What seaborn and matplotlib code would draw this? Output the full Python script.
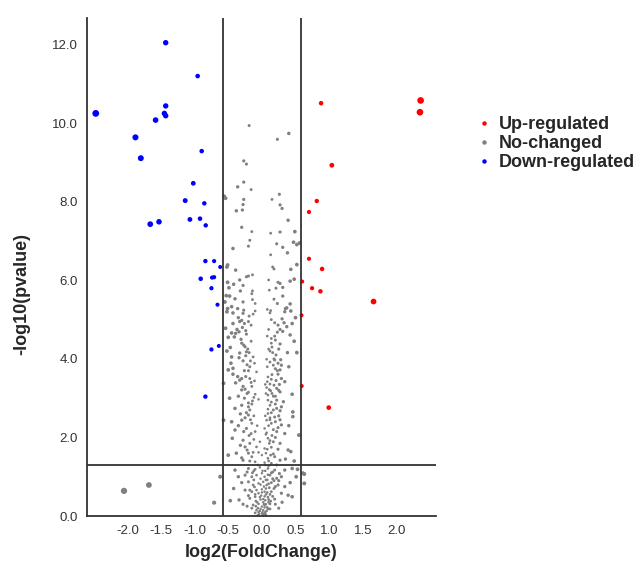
import numpy as np
import pandas as pd
import matplotlib
matplotlib.use("Agg")
import matplotlib.pyplot as plt
from matplotlib.lines import Line2D
from matplotlib.ticker import FormatStrFormatter, MultipleLocator
import seaborn as sns

# ---------------- data ----------------
up_fc = [0.88, 2.36, 2.35, 1.04, 0.816, 0.70, 0.70, 0.895, 0.60, 0.746, 0.87, 1.66, 0.59, 0.593, 0.994]
up_p = [10.51, 10.58, 10.28, 8.93, 8.02, 7.74, 6.55, 6.29, 5.97, 5.80, 5.72, 5.46, 5.11, 3.31, 2.76]

down_fc = [-1.43, -0.955, -1.43, -2.47, -1.45, -1.43, -1.58, -1.88, -0.895, -1.80, -1.02, -1.14,
           -0.856, -0.92, -1.07, -1.53, -1.66, -0.835, -0.84, -0.71, -0.62, -0.91, -0.74, -0.71,
           -0.75, -0.66, -0.64, -0.75, -0.84]
down_p = [12.05, 11.20, 10.44, 10.25, 10.25, 10.19, 10.08, 9.64, 9.29, 9.11, 8.47, 8.03,
          7.96, 7.57, 7.55, 7.49, 7.43, 7.40, 6.49, 6.49, 6.34, 6.04, 6.07, 6.08,
          5.80, 5.38, 4.33, 4.24, 3.04]

nc_fc = [
    -0.19, 0.40, 0.23, -0.27, -0.23, -0.27, -0.36, -0.16, -0.56, -0.54, 0.26, 0.15, -0.27, -0.28, 0.27, 0.30, -0.38, -0.29,
    0.39, -0.30, -0.15, 0.13, 0.27, 0.49, -0.18, 0.22, 0.47, 0.52, -0.20, -0.43, 0.31, 0.38, 0.13, 0.52, -0.51, -0.52, 0.16,
    0.18, -0.39, 0.43, -0.14, -0.23, -0.20, 0.10, -0.51, -0.33, -0.42, 0.24, 0.27, 0.42, 0.48, -0.49, -0.28, 0.21, 0.11,
    -0.32, -0.14, 0.31, -0.15, -0.53, -0.48, 0.31, -0.40, -0.14, 0.18, -0.28, -0.10, 0.23, 0.42, -0.45, -0.51, -0.36, 0.08,
    0.35, 0.37, -0.27, -0.10, 0.13, -0.52, 0.43, 0.56,
    -0.43, -0.28, -0.13, 0.12, 0.34, -0.19, -0.43, -0.26, -0.16, 0.24, 0.33, 0.37, -0.54, -0.39, -0.45, -0.34, -0.23, 0.08,
    0.19, 0.42, -0.41, -0.47, -0.25, -0.23, -0.19, 0.12, 0.16, 0.38, 0.52, -0.45, -0.34, -0.13, 0.07, 0.19, 0.24, -0.46,
    -0.11, 0.17, 0.29, -0.43, -0.50, -0.26, -0.20, -0.08, 0.27, -0.43, 0.24, 0.09, -0.18, -0.30, 0.29, -0.33, -0.11, -0.39,
    -0.57, 0.08, 0.12, 0.18, 0.34, 0.07, 0.22, -0.25, -0.30, 0.13, 0.27, -0.10, 0.09, 0.17, -0.26, -0.05, -0.14, 0.09, 0.22,
    0.32, 0.12, -0.20, -0.40, -0.18, 0.09, 0.17, 0.22, 0.29, -0.23, 0.14, 0.46,
    -0.35, -0.30, -0.20, 0.30, 0.27, 0.31, -0.37, -0.16, 0.14, 0.20, 0.48, -0.52,
    -0.57, -0.20, 0.09, 0.46, -0.30, -0.15, 0.07, 0.14, 0.29, -0.40, -0.23, -0.10, 0.04, 0.22, 0.34, 0.55, -0.44, -0.28,
    -0.18, -0.03, 0.09, 0.17, 0.27, -0.25, -0.08, 0.04, 0.14, 0.39, 0.43, -0.38, -0.20, -0.15, 0.00, 0.09, 0.19, 0.27,
    -0.28, -0.10, 0.04, 0.14,
    -0.40, -0.20, -0.10, -0.03, 0.09, 0.19, 0.34, 0.45, 0.53, 0.61, 0.63, -0.62, -0.35, -0.25, -0.15, -0.08, 0.00, 0.04,
    0.12, 0.22, 0.29, 0.51, -0.20, -0.13, -0.05, 0.02, 0.07, 0.14, 0.24, 0.34, -0.25, -0.15, -0.08, 0.00, 0.04, 0.14, 0.29,
    -0.34, -0.47, 0.39, -0.18, -0.10, -0.03, 0.02, 0.09, 0.19, -0.13, -0.05, 0.00, 0.04, 0.12, -0.08, -0.03, 0.02, 0.07,
    0.00, -0.04, 0.03,
    -2.05, -1.68, -0.71, 0.45, 0.63,
    0.05, -0.06, 0.08, 0.10, -0.09, 0.06, -0.05, 0.11, -0.11, 0.08, -0.02, 0.16, -0.14, 0.10, -0.06, 0.05, -0.01, 0.12,
    -0.10, 0.01, 0.06, -0.06, 0.03, 0.18, -0.18, 0.25, 0.16, -0.12, 0.20, -0.22, 0.13, -0.05, 0.08, 0.11, -0.12, 0.15,
    0.06, -0.07, 0.20, 0.12, -0.12, 0.17, -0.16,
    0.15, 0.20, -0.15, -0.20, 0.25, 0.15, 0.21, 0.18, -0.24, -0.17, 0.15, 0.25, -0.30, 0.20, -0.15, 0.12, 0.25, -0.32, 0.27,
]
nc_p = [
    9.94, 9.74, 9.59, 9.04, 8.96, 8.50, 8.38, 8.31, 8.14, 8.09, 8.19, 8.06, 8.06, 7.93, 7.92, 7.83, 7.77, 7.79,
    7.53, 7.35, 7.24, 7.20, 7.23, 7.24, 7.02, 6.93, 6.97, 6.91, 6.87, 6.81, 6.84, 6.70, 6.65, 6.40, 6.39, 6.34, 6.34,
    6.29, 6.26, 6.28, 6.14, 6.09, 6.11, 6.01, 5.95, 6.01, 5.90, 5.95, 5.92, 5.98, 6.03, 5.81, 5.87, 5.80, 5.75,
    5.73, 5.73, 5.82, 5.66, 5.61, 5.60, 5.60, 5.53, 5.51, 5.52, 5.45, 5.41, 5.41, 5.40, 5.33, 5.28, 5.28, 5.26,
    5.28, 5.30, 5.24, 5.22, 5.23, 5.20, 5.22, 6.95,
    5.17, 5.16, 5.14, 5.17, 5.20, 5.09, 4.90, 4.90, 4.86, 4.86, 4.92, 4.82, 4.78, 4.65, 4.66, 4.69, 4.63, 4.58,
    4.58, 4.61, 4.56, 4.29, 4.31, 4.18, 4.16, 4.20, 4.16, 4.16, 4.16, 4.05, 4.03, 4.05, 3.99, 3.97, 3.89, 3.89,
    3.89, 3.84, 3.84, 3.76, 3.72, 3.70, 3.70, 3.67, 3.72, 3.61, 3.61, 3.54, 3.50, 3.50, 3.50, 3.46, 3.44, 3.39,
    3.38, 3.42, 3.36, 3.33, 3.42, 3.27, 3.25, 3.23, 3.21, 3.19, 3.16, 3.10, 3.08, 3.05, 3.00, 2.97, 2.93, 2.95, 2.95,
    2.91, 2.82, 2.78, 2.74, 2.70, 2.72, 2.70, 2.74, 2.78, 2.63, 2.63, 2.65,
    5.05, 4.98, 4.95, 5.02, 4.75, 4.70, 4.75, 4.45, 4.40, 4.48, 4.45, 4.20,
    2.44, 2.57, 2.61, 2.53, 2.44, 2.36, 2.44, 2.36, 2.32, 2.19, 2.23, 2.15, 2.23, 2.15, 2.10, 2.06, 1.98, 1.93,
    1.85, 1.89, 1.98, 1.89, 1.85, 1.76, 1.76, 1.72, 1.75, 1.68, 1.64, 1.60, 1.60, 1.51, 1.55, 1.47, 1.51, 1.42,
    1.42, 1.38, 1.36, 1.34,
    1.17, 1.21, 1.19, 1.24, 1.21, 1.17, 1.17, 1.21, 1.19, 1.09, 0.83, 1.00, 1.00, 1.04, 1.00, 1.04, 1.09, 1.00,
    1.04, 0.96, 1.00, 1.00, 0.87, 0.79, 0.83, 0.87, 0.79, 0.85, 0.79, 0.75, 0.66, 0.62, 0.66, 0.68, 0.62, 0.62, 0.58,
    0.41, 0.39, 0.53, 0.45, 0.49, 0.48, 0.43, 0.48, 0.43, 0.28, 0.31, 0.24, 0.28, 0.31, 0.15, 0.13, 0.15, 0.13,
    0.07, 0.05, 0.05,
    0.64, 0.79, 0.34, 0.49, 1.07,
    0.10, 0.20, 0.22, 0.35, 0.38, 0.55, 0.58, 0.72, 0.74, 0.92, 0.95, 1.12, 1.10, 1.28, 1.30, 0.40, 0.52, 0.18,
    0.08, 0.02, 0.02, 0.02, 0.30, 0.70, 0.66, 0.90, 0.95, 0.92, 0.30, 0.25, 1.55, 1.62, 1.70, 1.85, 1.95, 2.05,
    2.08, 2.30, 2.40, 2.50, 2.55, 2.20, 2.10,
    3.60, 3.75, 3.30, 3.15, 3.20, 3.12, 3.45, 4.00, 4.08, 3.95, 4.30, 4.25, 4.40, 2.85, 2.85, 2.45, 2.55, 2.60, 2.45,
]

# second batch of unchanged genes (dense columns and the cone near zero)
nc2_fc = [
    -0.33, -0.29, -0.24, -0.31, -0.27, -0.21, -0.33, -0.28, -0.22, -0.18, -0.36, -0.24, -0.16, -0.28, -0.22, -0.35,
    -0.12, -0.20, -0.30, -0.25, -0.17, -0.35, -0.27, -0.19, -0.32, -0.22, -0.13, -0.30, -0.18, -0.12, -0.22, -0.30,
    -0.10, -0.20, -0.07, -0.15, -0.09,
    0.14, 0.19, 0.10, 0.23, 0.14, 0.27, 0.10, 0.21, 0.12, 0.28, 0.08, 0.23, 0.14, 0.05, 0.26, 0.11, 0.20, 0.06, 0.14,
    0.27, 0.05, 0.19, 0.10, 0.24, 0.07, 0.20, 0.12, 0.24, 0.06, 0.17, 0.10, 0.22, 0.05, 0.14, 0.26, 0.09, 0.18, 0.10,
    0.20, 0.06, 0.12, 0.08, 0.16, 0.10, 0.13, 0.06, 0.09, 0.04, 0.01, -0.02, 0.05, -0.05, 0.02, -0.02, 0.04, 0.00,
    0.03, -0.02, 0.06, 0.01, 0.05,
    -0.45, -0.50, 0.40, 0.48, 0.35, -0.42, 0.30, 0.25, -0.28, 0.42, -0.48, 0.45, 0.40, -0.50, 0.50, -0.55, 0.45,
]
nc2_p = [
    4.95, 4.80, 4.72, 4.50, 4.35, 4.25, 4.15, 3.95, 3.85, 3.80, 3.55, 3.55, 3.40, 3.30, 3.12, 3.05,
    3.02, 2.88, 2.82, 2.50, 2.45, 2.30, 2.15, 2.05, 1.80, 1.68, 1.62, 1.48, 1.40, 1.15, 1.12, 0.85,
    0.55, 0.52, 0.35, 0.20, 0.25,
    5.00, 4.92, 4.75, 4.68, 4.52, 4.38, 4.25, 4.10, 3.92, 3.98, 3.80, 3.70, 3.48, 3.35, 3.35, 3.22, 3.05, 3.12, 2.90,
    2.68, 2.55, 2.52, 2.30, 2.25, 2.12, 2.00, 1.92, 1.70, 1.60, 1.58, 1.40, 1.30, 1.15, 1.10, 1.08, 1.05, 0.90, 0.82,
    0.75, 0.70, 0.55, 0.60, 0.50, 0.42, 0.38, 0.30, 0.18, 0.22, 0.10, 0.18, 0.06, 0.10, 0.35, 0.42, 0.50, 0.60,
    0.75, 0.80, 0.92, 1.15, 1.30,
    2.40, 1.55, 2.30, 1.40, 1.45, 0.70, 0.35, 0.20, 0.30, 0.85, 3.00, 3.10, 3.80, 4.55, 5.05, 5.45, 4.90,
]

categories = ["Up-regulated", "No-changed", "Down-regulated"]
colors = ["#ff0000", "#808080", "#0000ff"]
x_ticks = [-2.0, -1.5, -1.0, -0.5, 0.0, 0.5, 1.0, 1.5, 2.0]
fc_cut = [-0.585, 0.585]
p_cut = 1.301

# ---------------- frame ----------------
df = pd.concat([
    pd.DataFrame({"fc": nc_fc + nc2_fc, "p": nc_p + nc2_p, "status": "No-changed"}),
    pd.DataFrame({"fc": up_fc, "p": up_p, "status": "Up-regulated"}),
    pd.DataFrame({"fc": down_fc, "p": down_p, "status": "Down-regulated"}),
], ignore_index=True)
df["absfc"] = df["fc"].abs()

sns.set_style("white")
plt.rcParams["font.family"] = ["Liberation Sans", "DejaVu Sans"]

fig = plt.figure(figsize=(6.37, 5.66), dpi=100)
ax = fig.add_axes([0.1366, 0.0883, 0.548, 0.880])

sns.scatterplot(data=df, x="fc", y="p", hue="status", hue_order=categories,
                palette=dict(zip(categories, colors)), size="absfc",
                sizes=(3.0, 24), size_norm=(0, 2.47), linewidth=0,
                legend=False, ax=ax)

line_c = "#333333"
for v in fc_cut:
    ax.axvline(v, color=line_c, lw=1.3, zorder=3)
ax.axhline(p_cut, color=line_c, lw=1.3, zorder=3)

ax.set_xlim(-2.6, 2.59)
ax.set_ylim(0, 12.68)
ax.set_xticks(x_ticks)
ax.yaxis.set_major_locator(MultipleLocator(2.0))
ax.xaxis.set_major_formatter(FormatStrFormatter("%.1f"))
ax.yaxis.set_major_formatter(FormatStrFormatter("%.1f"))

for s in ["top", "right"]:
    ax.spines[s].set_visible(False)
for s in ["left", "bottom"]:
    ax.spines[s].set_color(line_c)
    ax.spines[s].set_linewidth(1.3)

ax.tick_params(axis="both", direction="out", length=3.5, width=1, color=line_c,
               labelsize=9.5, labelcolor="#333333", pad=3)

ax.set_xlabel("log2(FoldChange)", fontsize=13, fontweight="bold", labelpad=5)
ax.set_ylabel("-log10(pvalue)", fontsize=13, fontweight="bold")
ax.yaxis.set_label_coords(-0.163, 0.446)

handles = [Line2D([0], [0], marker="o", linestyle="", markersize=3.2,
                  markerfacecolor=c, markeredgewidth=0) for c in colors]
leg = fig.legend(handles, categories, loc="upper left", bbox_to_anchor=(0.735, 0.811),
                 frameon=False, handlelength=0.8, handletextpad=0.4,
                 labelspacing=0.12, borderpad=0,
                 prop={"weight": "bold", "size": 13})

fig.savefig("out.png", dpi=100)
